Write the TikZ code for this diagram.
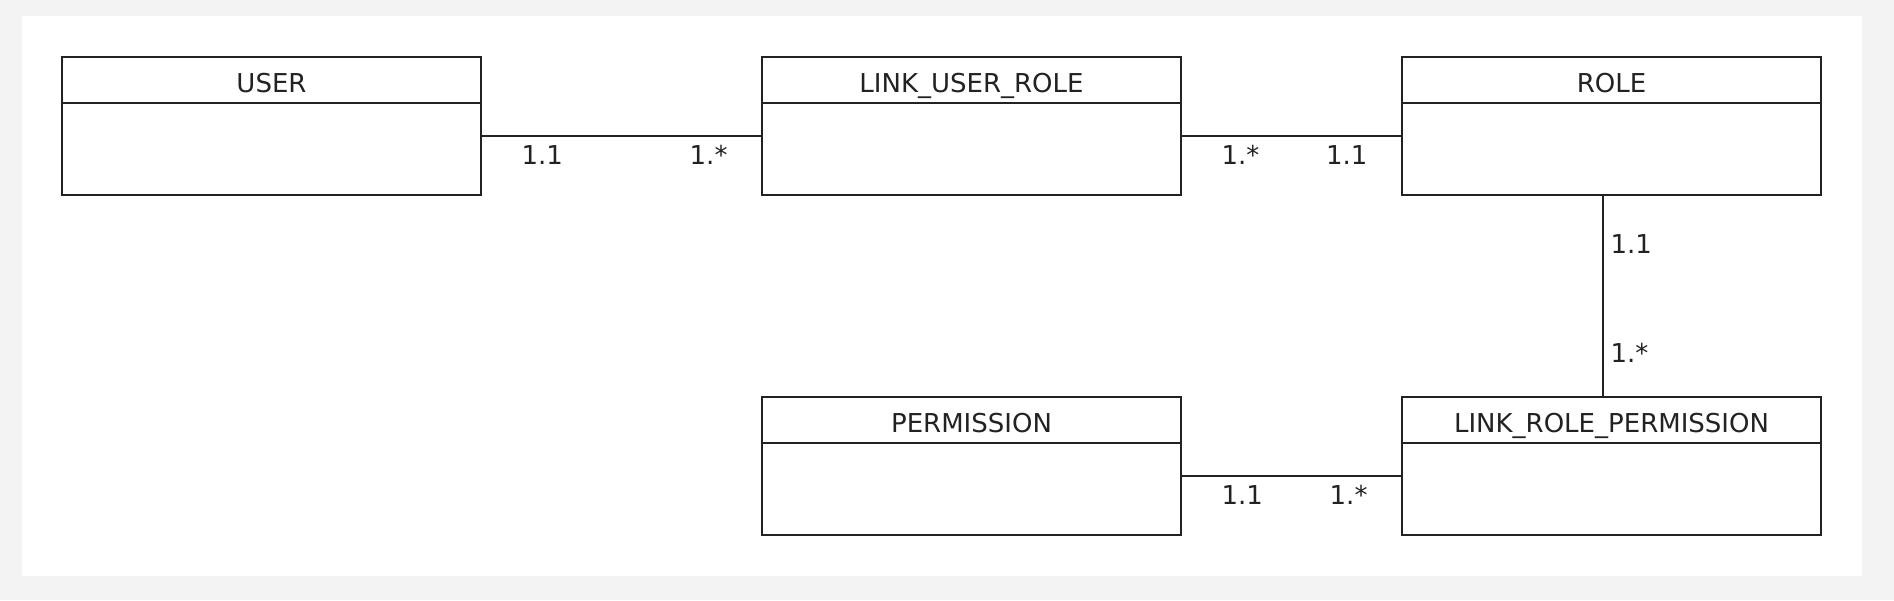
\documentclass[tikz,border=0pt]{standalone}
\usepackage{fontspec}
\setmainfont{DejaVu Sans}
\usetikzlibrary{positioning}
\definecolor{pagegray}{HTML}{F3F3F3}
\definecolor{ink}{HTML}{222222}
\tikzset{
  head/.style={draw=ink, line width=1pt, minimum width=209.5pt, minimum height=23pt,
    inner sep=0pt, outer sep=0pt, text height=12.2pt, text depth=0pt,
    font=\fontsize{13}{15}\selectfont, text=ink, anchor=north west},
  body/.style={draw=ink, line width=1pt, minimum width=209.5pt, minimum height=46pt,
    inner sep=0pt, outer sep=0pt, below=0pt of #1},
  mult/.style={inner sep=0pt, text height=9.5pt, text depth=0pt,
    font=\fontsize{13}{15}\selectfont, text=ink},
  link/.style={draw=ink, line width=1pt}
}
\begin{document}
\begin{tikzpicture}[x=0.5pt,y=0.5pt]
\fill[pagegray] (0,0) rectangle (1894,600);
\fill[white] (22,24) rectangle (1862,584);
\node[head] (uh) at (62,543) {USER};
\node[body=uh] (ub) {};
\node[head] (lurh) at (762,543) {LINK\_USER\_ROLE};
\node[body=lurh] (lurb) {};
\node[head] (rh) at (1402,543) {ROLE};
\node[body=rh] (rb) {};
\node[head] (ph) at (762,203) {PERMISSION};
\node[body=ph] (pb) {};
\node[head] (lrph) at (1402,203) {LINK\_ROLE\_PERMISSION};
\node[body=lrph] (lrpb) {};
\draw[link] ([yshift=6.5pt]ub.east) -- ([yshift=6.5pt]lurb.west)
  node[mult, pos=0, anchor=north west, xshift=19.75pt, yshift=-4.25pt] (m1) {1.1}
  node[mult, pos=1, anchor=north east, xshift=-16.75pt, yshift=-4.25pt] (m2) {1.*};
\draw[link] ([yshift=6.5pt]lurb.east) -- ([yshift=6.5pt]rb.west)
  node[mult, pos=0, anchor=north west, xshift=19.75pt, yshift=-4.25pt] (m3) {1.*}
  node[mult, pos=1, anchor=north east, xshift=-16.75pt, yshift=-4.25pt] (m4) {1.1};
\draw[link] ([xshift=-4.25pt]rb.south) -- ([xshift=-4.25pt]lrph.north)
  node[mult, pos=0, anchor=north west, xshift=3.25pt, yshift=-19.5pt] (m5) {1.1}
  node[mult, pos=1, anchor=south west, xshift=3.25pt, yshift=16.5pt] (m6) {1.*};
\draw[link] ([yshift=6.5pt]pb.east) -- ([yshift=6.5pt]lrpb.west)
  node[mult, pos=0, anchor=north west, xshift=19.75pt, yshift=-4.25pt] (m7) {1.1}
  node[mult, pos=1, anchor=north east, xshift=-16.75pt, yshift=-4.25pt] (m8) {1.*};
\end{tikzpicture}
\end{document}
